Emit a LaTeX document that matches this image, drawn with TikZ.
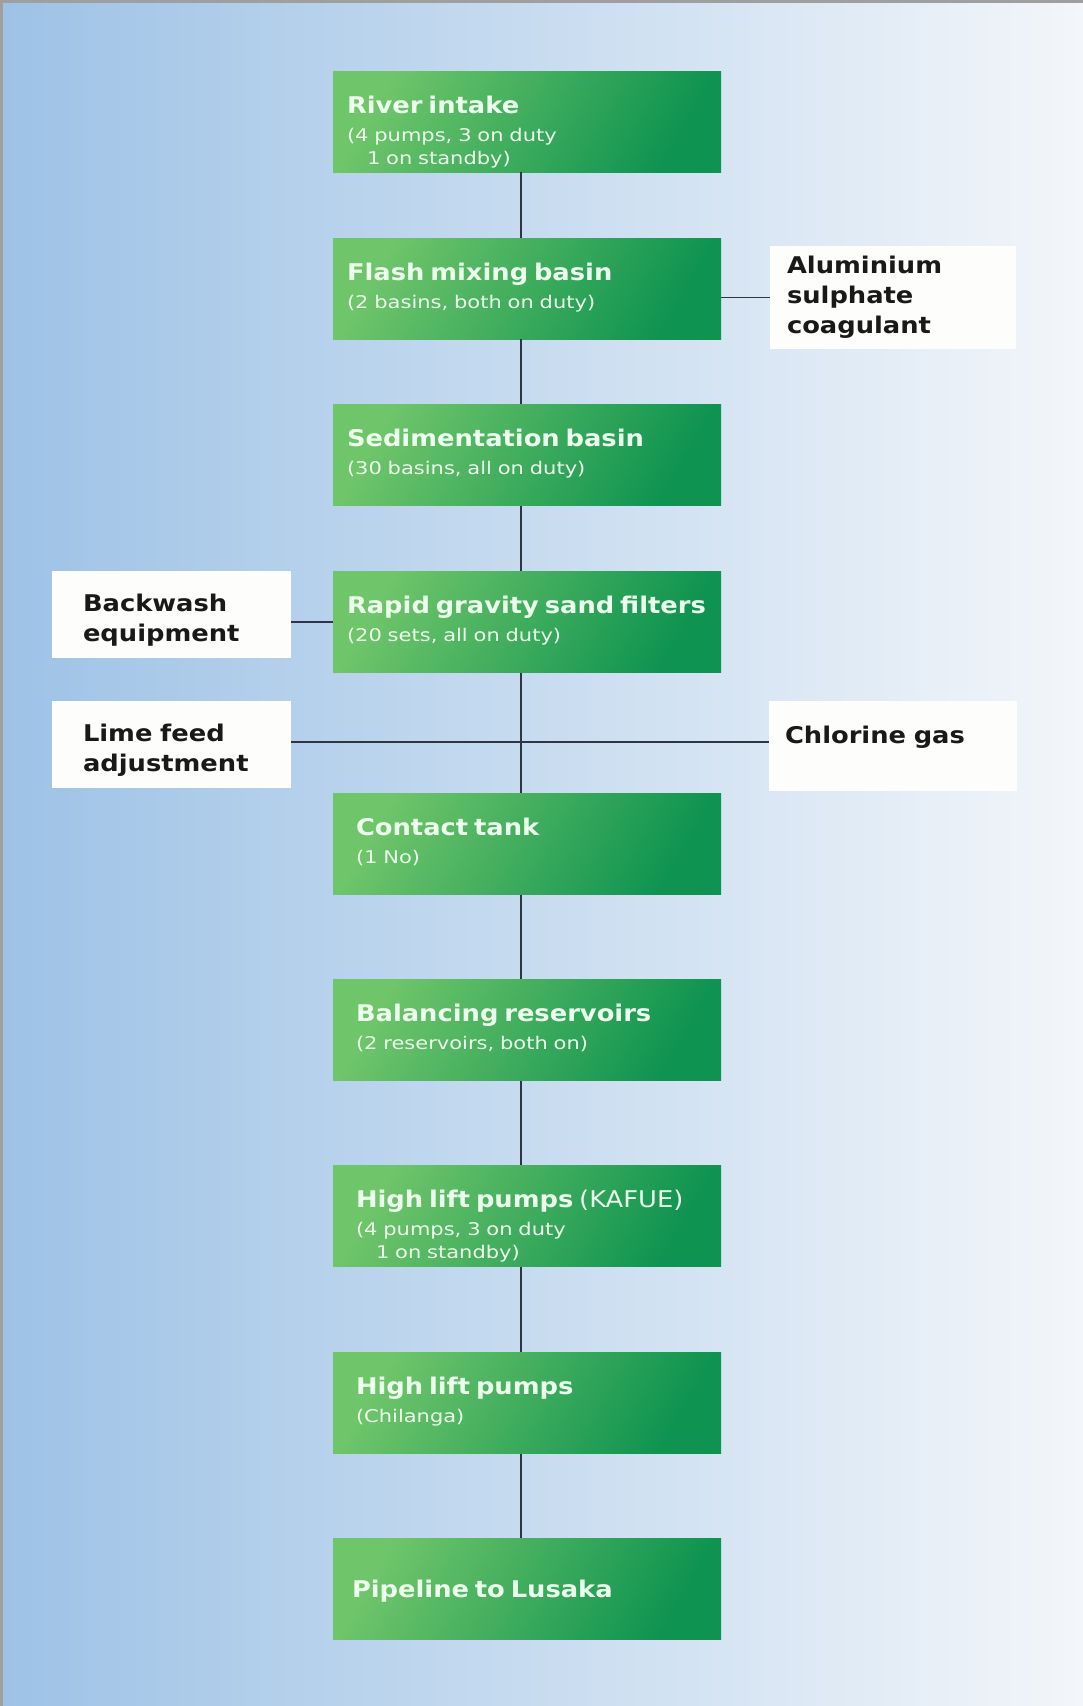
\documentclass[tikz,border=0pt]{standalone}
\usepackage{fontspec}
\setmainfont{DejaVu Sans}
\newfontfamily\wideface[FakeStretch=1.12]{DejaVu Sans}
\newfontfamily\subface[FakeStretch=1.2]{DejaVu Sans}

\definecolor{skyleft}{HTML}{9DC2E6}
\definecolor{skyright}{HTML}{F3F6FA}
\definecolor{leafhi}{HTML}{6FC56A}
\definecolor{leafmid}{HTML}{52BA61}
\definecolor{leaflo}{HTML}{0E9350}
\definecolor{pipe}{HTML}{2F3542}
\definecolor{paper}{HTML}{FDFDFB}

\newcommand{\stagehead}[1]{\mbox{\wideface\fontsize{23}{28}\selectfont\bfseries #1}}

\begin{document}
\begin{tikzpicture}[x=1pt,y=-1pt,
  stage/.style={top color=leafhi,middle color=leafmid,bottom color=leaflo,shading angle=60,
    minimum height=101pt,text width=360pt,inner xsep=14pt,inner ysep=0pt,align=left,
    text=white!93!green,font=\subface\fontsize{17.5}{23}\selectfont,
    text height=18pt,text depth=35pt},
  lower/.style={text width=342pt,inner xsep=23pt},
  note/.style={fill=paper,text=black!90,align=left,inner ysep=0pt,
    font=\wideface\fontsize{23}{30}\selectfont\bfseries},
  pair/.style={minimum height=87pt,text width=177pt,inner xsep=31pt,text height=24pt,text depth=31pt},
  link/.style={draw=pipe,line width=1.6pt}]
\useasboundingbox (0,0) rectangle (1083,1706);
\fill[left color=skyleft,right color=skyright] (0,0) rectangle (1083,1706);
\draw[gray!75,line width=3pt] (1.5,1706) -- (1.5,1.5) -- (1083,1.5);

% main chain
\node[stage] (intake) at (527,121.5) {\stagehead{River intake}\\[5pt] (4 pumps, 3 on duty\\ \hspace*{20pt}1 on standby)};
\node[stage] (flash) at (527,288.5) {\stagehead{Flash mixing basin}\\[5pt] (2 basins, both on duty)};
\node[stage] (sedim) at (527,455) {\stagehead{Sedimentation basin}\\[5pt] (30 basins, all on duty)};
\node[stage] (filters) at (527,622) {\stagehead{Rapid gravity sand filters}\\[5pt] (20 sets, all on duty)};
\node[stage,lower] (contact) at (527,844) {\stagehead{Contact tank}\\[5pt] (1 No)};
\node[stage,lower] (balance) at (527,1030) {\stagehead{Balancing reservoirs}\\[5pt] (2 reservoirs, both on)};
\node[stage,lower] (kafue) at (527,1216) {\stagehead{High lift pumps} {\wideface\fontsize{23}{28}\selectfont(KAFUE)}\\[5pt] (4 pumps, 3 on duty\\ \hspace*{20pt}1 on standby)};
\node[stage,lower] (chilanga) at (527,1403) {\stagehead{High lift pumps}\\[5pt] (Chilanga)};
\node[stage,lower,inner xsep=19pt,text width=350pt,text height=17pt,text depth=0pt] (pipeline) at (527,1588.5) {\stagehead{Pipeline to Lusaka}};

% side inputs
\node[note,minimum height=103pt,text width=212pt,inner xsep=17pt] (alum) at (893,297.5) {Aluminium\\ sulphate\\ coagulant};
\node[note,pair] (backwash) at (171.5,614.5) {Backwash\\ equipment};
\node[note,pair] (lime) at (171.5,744.5) {Lime feed\\ adjustment};
\node[note,minimum height=90pt,text width=216pt,inner xsep=16pt,text height=17pt,text depth=23pt] (chlorine) at (893,746) {Chlorine gas};

\coordinate (spine) at (521,0);
\coordinate (dose) at (521,742);
\foreach \a/\b in {intake/flash,flash/sedim,sedim/filters,filters/contact,contact/balance,balance/kafue,kafue/chilanga,chilanga/pipeline}
  \draw[link] (\a.south -| spine) -- (\b.north -| spine);
\draw[link] (flash.east |- alum.west) -- (alum.west);
\draw[link] (backwash.east |- filters.west) -- (filters.west);
\draw[link] (lime.east |- dose) -- (chlorine.west |- dose);
\end{tikzpicture}
\end{document}
